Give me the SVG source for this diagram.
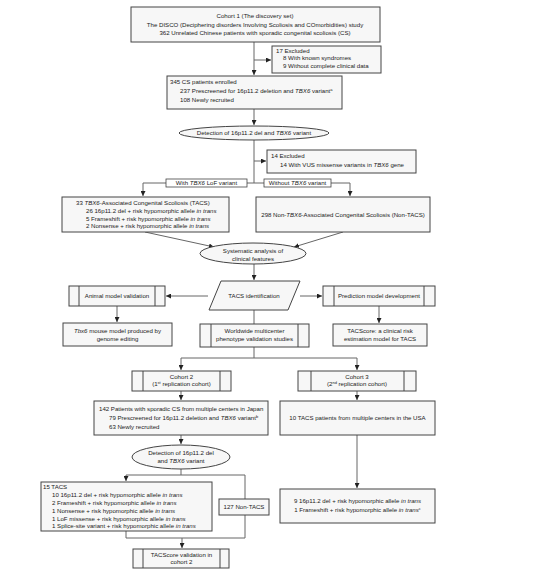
<svg xmlns="http://www.w3.org/2000/svg" width="553" height="580" viewBox="0 0 553 580">
<defs>
<style>
text{font-family:"Liberation Sans",Arial,sans-serif;font-size:6.1px;fill:#222}
.c{text-anchor:middle}
.b{fill:#f7f7f7;stroke:#444;stroke-width:1}
.l{fill:#fff;stroke:#444;stroke-width:0.8}
.ln{fill:none;stroke:#666;stroke-width:1}
.in{stroke:#444;stroke-width:1}
.s{font-size:4px}
.i{font-style:italic}
</style>
<marker id="a" viewBox="0 0 6 6" refX="6" refY="3" markerWidth="5" markerHeight="5" orient="auto" markerUnits="userSpaceOnUse">
<path d="M0,0L6,3L0,6z" fill="#222"/>
</marker>
</defs>
<rect width="553" height="580" fill="#fff"/>
<g id="connectors">
<path class="ln" d="M254,42V75" marker-end="url(#a)"/>
<path class="ln" d="M254,60H271" marker-end="url(#a)"/>
<path class="ln" d="M254,109V125" marker-end="url(#a)"/>
<path class="ln" d="M254,140V183"/>
<path class="ln" d="M254,161H266" marker-end="url(#a)"/>
<path class="ln" d="M254,183H143V196" marker-end="url(#a)"/>
<path class="ln" d="M254,183H350V196" marker-end="url(#a)"/>
<path class="ln" d="M145,232L214,247" marker-end="url(#a)"/>
<path class="ln" d="M343,232L294,247" marker-end="url(#a)"/>
<path class="ln" d="M254,264V280" marker-end="url(#a)"/>
<path class="ln" d="M208,296H166" marker-end="url(#a)"/>
<path class="ln" d="M300,296H322" marker-end="url(#a)"/>
<path class="ln" d="M117,306V322" marker-end="url(#a)"/>
<path class="ln" d="M379,306V323" marker-end="url(#a)"/>
<path class="ln" d="M254,310V324"/>
<path class="ln" d="M254,347V358H181V370" marker-end="url(#a)"/>
<path class="ln" d="M254,358H357V370" marker-end="url(#a)"/>
<path class="ln" d="M181,391V400" marker-end="url(#a)"/>
<path class="ln" d="M357,391V400" marker-end="url(#a)"/>
<path class="ln" d="M357,435V488" marker-end="url(#a)"/>
<path class="ln" d="M181,435V444" marker-end="url(#a)"/>
<path class="ln" d="M181,469V475H126V481" marker-end="url(#a)"/>
<path class="ln" d="M181,475H245V499"/>
<path class="ln" d="M126,531V538H245V515"/>
<path class="ln" d="M182,538V548" marker-end="url(#a)"/>
</g>
<g id="cohort1">
<rect class="b" x="131" y="7" width="249" height="35"/>
<text class="c" x="255" y="17.5">Cohort 1 (The discovery set)</text>
<text class="c" x="255" y="26.5">The DISCO (Deciphering disorders Involving Scoliosis and COmorbidities) study</text>
<text class="c" x="255" y="35.3">362 Unrelated Chinese patients with sporadic congenital scoliosis (CS)</text>
</g>
<g id="excluded17">
<rect class="b" x="272" y="46" width="109" height="27"/>
<text x="276" y="52.5">17 Excluded</text>
<text x="283" y="60.2">8 With known syndromes</text>
<text x="283" y="68">9 Without complete clinical data</text>
</g>
<g id="enrolled">
<rect class="b" x="167" y="76" width="175" height="33"/>
<text x="170" y="84">345 CS patients enrolled</text>
<text x="180" y="93">237 Prescreened for 16p11.2 deletion and <tspan class="i">TBX6</tspan> variant<tspan class="s" dy="-2">a</tspan></text>
<text x="180" y="102">108 Newly recruited</text>
</g>
<g id="detection1">
<ellipse class="b" cx="254" cy="133" rx="75" ry="7"/>
<text class="c" x="254" y="135">Detection of 16p11.2 del and <tspan class="i">TBX6</tspan> variant</text>
</g>
<g id="excluded14">
<rect class="b" x="267" y="150" width="149" height="23"/>
<text x="271" y="158">14 Excluded</text>
<text x="280" y="167">14 With VUS missense variants in <tspan class="i">TBX6</tspan> gene</text>
</g>
<g id="label-lof">
<rect class="l" x="166" y="179" width="81" height="8"/>
<text class="c" x="206.5" y="185.2">With <tspan class="i">TBX6</tspan> LoF variant</text>
</g>
<g id="label-without">
<rect class="l" x="264" y="179" width="67" height="8"/>
<text class="c" x="297.5" y="185.2">Without <tspan class="i">TBX6</tspan> variant</text>
</g>
<g id="tacs33">
<rect class="b" x="62" y="197" width="167" height="35"/>
<text x="76" y="205"><tspan>33 </tspan><tspan class="i">TBX6</tspan>-Associated Congenital Scoliosis (TACS)</text>
<text x="86" y="213">26 16p11.2 del + risk hypomorphic allele <tspan class="i">in trans</tspan></text>
<text x="86" y="220.5">5 Frameshift + risk hypomorphic allele <tspan class="i">in trans</tspan></text>
<text x="86" y="228">2 Nonsense + risk hypomorphic allele <tspan class="i">in trans</tspan></text>
</g>
<g id="nontacs298">
<rect class="b" x="256" y="197" width="174" height="35"/>
<text class="c" x="343" y="217">298 Non-<tspan class="i">TBX6</tspan>-Associated Congenital Scoliosis (Non-TACS)</text>
</g>
<g id="systematic">
<ellipse class="b" cx="253" cy="253.5" rx="53" ry="10.5"/>
<text class="c" x="253" y="253">Systematic analysis of</text>
<text class="c" x="253" y="261">clinical features</text>
</g>
<g id="tacs-identification">
<polygon class="b" points="221,281 300,281 288,310 209,310"/>
<text class="c" x="254" y="298">TACS identification</text>
</g>
<g id="animal">
<rect class="b" x="69" y="286" width="96" height="20"/>
<line class="in" x1="79" y1="286" x2="79" y2="306"/>
<line class="in" x1="155" y1="286" x2="155" y2="306"/>
<text class="c" x="117" y="298">Animal model validation</text>
</g>
<g id="prediction">
<rect class="b" x="323" y="286" width="112" height="20"/>
<line class="in" x1="334" y1="286" x2="334" y2="306"/>
<line class="in" x1="424" y1="286" x2="424" y2="306"/>
<text class="c" x="379" y="298">Prediction model development</text>
</g>
<g id="tbx6mouse">
<rect class="b" x="63" y="323" width="109" height="23"/>
<text class="c" x="117.5" y="333"><tspan class="i">Tbx6</tspan> mouse model produced by</text>
<text class="c" x="117.5" y="340.5">genome editing</text>
</g>
<g id="worldwide">
<rect class="b" x="200" y="324" width="109" height="23"/>
<line class="in" x1="211" y1="324" x2="211" y2="347"/>
<line class="in" x1="298" y1="324" x2="298" y2="347"/>
<text class="c" x="254.5" y="333">Worldwide multicenter</text>
<text class="c" x="254.5" y="341">phenotype validation studies</text>
</g>
<g id="tacscore">
<rect class="b" x="333" y="324" width="94" height="22"/>
<text class="c" x="380" y="333">TACScore: a clinical risk</text>
<text class="c" x="380" y="340.5">estimation model for TACS</text>
</g>
<g id="cohort2">
<rect class="b" x="132" y="371" width="99" height="20"/>
<line class="in" x1="143" y1="371" x2="143" y2="391"/>
<line class="in" x1="220" y1="371" x2="220" y2="391"/>
<text class="c" x="181.5" y="379">Cohort 2</text>
<text class="c" x="181.5" y="386.3">(1<tspan class="s" dy="-2">st</tspan><tspan dy="2"> replication cohort)</tspan></text>
</g>
<g id="cohort3">
<rect class="b" x="298" y="371" width="118" height="20"/>
<line class="in" x1="311" y1="371" x2="311" y2="391"/>
<line class="in" x1="404" y1="371" x2="404" y2="391"/>
<text class="c" x="357" y="378.5">Cohort 3</text>
<text class="c" x="357" y="386.3">(2<tspan class="s" dy="-2">nd</tspan><tspan dy="2"> replication cohort)</tspan></text>
</g>
<g id="japan142">
<rect class="b" x="94" y="401" width="174" height="34"/>
<text x="99" y="411">142 Patients with sporadic CS from multiple centers in Japan</text>
<text x="109" y="420">79 Prescreened for 16p11.2 deletion and <tspan class="i">TBX6</tspan> variant<tspan class="s" dy="-2">b</tspan></text>
<text x="109" y="429">63 Newly recruited</text>
</g>
<g id="usa10">
<rect class="b" x="280" y="401" width="155" height="34"/>
<text class="c" x="357.5" y="420">10 TACS patients from multiple centers in the USA</text>
</g>
<g id="detection2">
<ellipse class="b" cx="181" cy="457" rx="49" ry="12"/>
<text class="c" x="181" y="455">Detection of 16p11.2 del</text>
<text class="c" x="181" y="462.5">and <tspan class="i">TBX6</tspan> variant</text>
</g>
<g id="tacs15">
<rect class="b" x="41" y="482" width="171" height="49"/>
<text x="43" y="489">15 TACS</text>
<text x="52" y="497">10 16p11.2 del + risk hypomorphic allele <tspan class="i">in trans</tspan></text>
<text x="52" y="505">2 Frameshift + risk hypomorphic allele <tspan class="i">in trans</tspan></text>
<text x="52" y="513">1 Nonsense + risk hypomorphic allele <tspan class="i">in trans</tspan></text>
<text x="52" y="520.5">1 LoF missense + risk hypomorphic allele <tspan class="i">in trans</tspan></text>
<text x="52" y="528">1 Splice-site variant + risk hypomorphic allele <tspan class="i">in trans</tspan></text>
</g>
<g id="nontacs127">
<rect class="b" x="219" y="499" width="50" height="16"/>
<text class="c" x="244" y="509">127 Non-TACS</text>
</g>
<g id="usa-breakdown">
<rect class="b" x="280" y="489" width="155" height="34"/>
<text class="c" x="357.5" y="503">9 16p11.2 del + risk hypomorphic allele <tspan class="i">in trans</tspan></text>
<text class="c" x="357.5" y="512">1 Frameshift + risk hypomorphic allele <tspan class="i">in trans</tspan><tspan class="s" dy="-2">c</tspan></text>
</g>
<g id="validation">
<rect class="b" x="133" y="549" width="96" height="19"/>
<line class="in" x1="143" y1="549" x2="143" y2="568"/>
<line class="in" x1="220" y1="549" x2="220" y2="568"/>
<text class="c" x="181.5" y="556.5">TACScore validation in</text>
<text class="c" x="181.5" y="564">cohort 2</text>
</g>
</svg>
